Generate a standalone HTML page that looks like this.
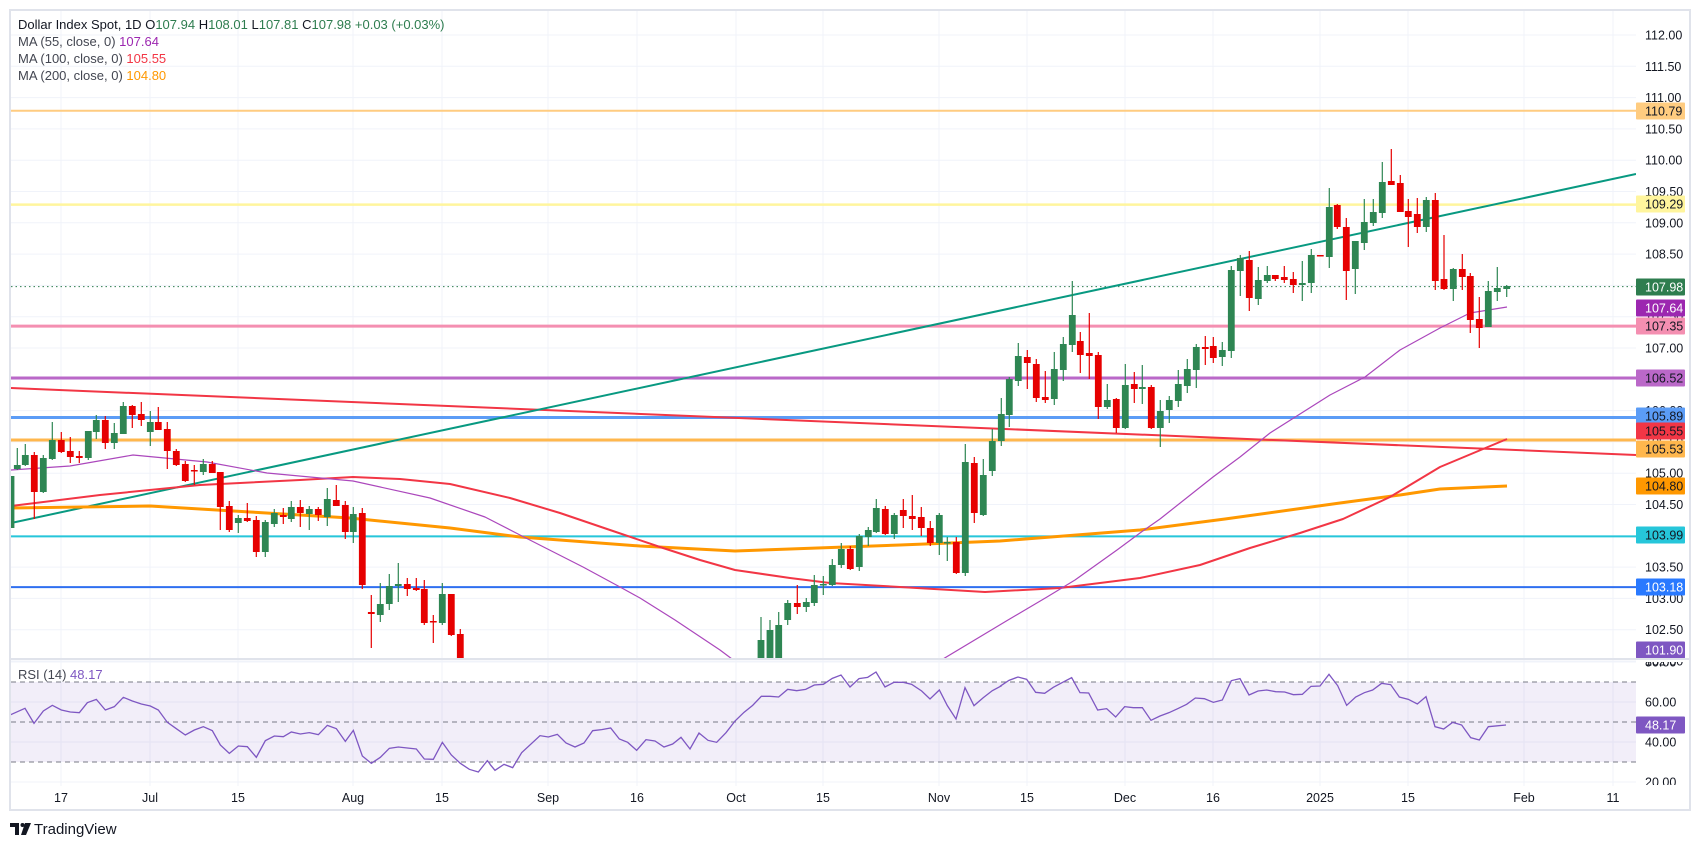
<!DOCTYPE html>
<html><head><meta charset="utf-8"><style>
html,body{margin:0;padding:0;background:#fff;}
body{width:1700px;height:846px;overflow:hidden;font-family:"Liberation Sans",sans-serif;}
svg text{font-family:"Liberation Sans",sans-serif;}
</style></head><body>
<svg id="s" width="1700" height="846" viewBox="0 0 1700 846" xmlns="http://www.w3.org/2000/svg">
<defs>
<clipPath id="cm"><rect x="11" y="11" width="1625" height="647"/></clipPath>
<clipPath id="cr"><rect x="11" y="660" width="1625" height="126"/></clipPath>
</defs>
<rect x="10" y="10" width="1680" height="800" fill="#fff" stroke="#e0e3eb" stroke-width="2"/>
<g id="grid"></g>
<g id="main" clip-path="url(#cm)"></g>
<g id="rsi" clip-path="url(#cr)"></g>
<line x1="10" y1="659" x2="1690" y2="659" stroke="#e0e3eb" stroke-width="2"/>
<g id="labels" font-size="12.5" fill="#131722"></g>
<g font-size="13" fill="#131722">
<text x="18" y="29">Dollar Index Spot, 1D <tspan fill="#131722">O</tspan><tspan fill="#2e7d4f">107.94</tspan> <tspan>H</tspan><tspan fill="#2e7d4f">108.01</tspan> <tspan>L</tspan><tspan fill="#2e7d4f">107.81</tspan> <tspan>C</tspan><tspan fill="#2e7d4f">107.98</tspan> <tspan fill="#2e7d4f">+0.03 (+0.03%)</tspan></text>
<text x="18" y="46" fill="#434651">MA (55, close, 0) <tspan fill="#9c27b0">107.64</tspan></text>
<text x="18" y="63" fill="#434651">MA (100, close, 0) <tspan fill="#f23645">105.55</tspan></text>
<text x="18" y="80" fill="#434651">MA (200, close, 0) <tspan fill="#ff9800">104.80</tspan></text>
<text x="18" y="679" fill="#434651">RSI (14) <tspan fill="#7e57c2">48.17</tspan></text>
</g>
<g transform="translate(10,820)">
<path d="M0 3h9v12h-4v-8h-5z" fill="#131722"/><circle cx="12.5" cy="5" r="2" fill="#131722"/><path d="M15 3h6l-5 12h-5z" fill="#131722"/>
<text x="24" y="14" font-size="15" fill="#131722">TradingView</text>
</g>
</svg>
<script>
var NS="http://www.w3.org/2000/svg";
function el(p,t,a){var e=document.createElementNS(NS,t);for(var k in a)e.setAttribute(k,a[k]);p.appendChild(e);return e;}
var G=document.getElementById('grid'),M=document.getElementById('main'),R=document.getElementById('rsi'),L=document.getElementById('labels');
function py(p){return 35+(112-p)*62.6;}
function ry(v){return 702+(60-v)*2;}
// grid
for(var p=102;p<=112;p+=0.5){var y=py(p);el(G,'line',{x1:11,x2:1636,y1:y,y2:y,stroke:'#f0f3fa','stroke-width':1});}
[80,60,40,20].forEach(function(v){el(G,'line',{x1:11,x2:1636,y1:ry(v),y2:ry(v),stroke:'#f0f3fa'});});
var tx=[[61,'17'],[150,'Jul'],[238,'15'],[353,'Aug'],[442,'15'],[548,'Sep'],[637,'16'],[736,'Oct'],[823,'15'],[939,'Nov'],[1027,'15'],[1125,'Dec'],[1213,'16'],[1320,'2025'],[1408,'15'],[1524,'Feb'],[1613,'11']];
tx.forEach(function(t){el(G,'line',{x1:t[0],x2:t[0],y1:11,y2:786,stroke:'#f0f3fa'});var e=el(L,'text',{x:t[0],y:802,'text-anchor':'middle'});e.textContent=t[1];});
// RSI band
el(R,'rect',{x:11,y:ry(70),width:1625,height:80,fill:'#7e57c2','fill-opacity':0.1});
[70,50,30].forEach(function(v){el(R,'line',{x1:11,x2:1636,y1:ry(v),y2:ry(v),stroke:'#787b86','stroke-dasharray':'5,4'});});
// horizontal levels
[[110.79,'#ffcc80',2],[109.29,'#fff59d',2.5],[107.35,'#f48fb1',3],[106.52,'#ba68c8',3],[105.89,'#5b9cf6',3],[105.53,'#ffb74d',3],[103.99,'#26c6da',2],[103.18,'#2f6ff0',2]].forEach(function(h){var y=py(h[0]);el(M,'line',{x1:11,x2:1636,y1:y,y2:y,stroke:h[1],'stroke-width':h[2]});});
el(M,'line',{x1:11,x2:1636,y1:286.6,y2:286.6,stroke:'#2e7d4f','stroke-dasharray':'1.5,3'});
// trendlines
el(M,'line',{x1:11,y1:388,x2:1636,y2:455,stroke:'#f23645','stroke-width':2});
el(M,'line',{x1:11,y1:523,x2:1636,y2:174,stroke:'#089981','stroke-width':2});
function pl(pts,c,w){el(M,'polyline',{points:pts.map(function(p){return p.join(',')}).join(' '),fill:'none',stroke:c,'stroke-width':w,'stroke-linejoin':'round'});}
pl([[11,508],[150,506],[250,512],[350,518],[450,528],[520,537],[640,546],[735,551],[790,549],[900,545],[1000,541],[1140,530],[1225,519],[1340,503],[1400,495],[1440,489],[1507,486]],'#ff9800',3);
pl([[11,506],[100,495],[200,485],[300,480],[353,477],[400,479],[450,484],[510,498],[560,513],[610,530],[660,547],[700,560],[735,570],[790,578],[830,583],[900,587],[985,592],[1060,588],[1140,578],[1200,565],[1250,548],[1300,533],[1343,519],[1390,497],[1440,467],[1507,439]],'#f23645',2);
pl([[11,470],[70,466],[133,455],[207,462],[267,473],[353,481],[430,498],[485,517],[520,535],[583,567],[620,587],[640,598],[675,620],[720,650],[760,680],[850,700],[943,659],[1008,620],[1047,597],[1075,580],[1117,550],[1140,533],[1160,519],[1213,477],[1240,457],[1270,433],[1330,395],[1365,377],[1400,350],[1440,328],[1470,313],[1507,307]],'#ab47bc',1.2);
// candles
var C=[[11,476,528,476,528,1],[17.3,465,469,448,470,1],[25.3,455,465,444,466,1],[34.3,455,492,452,519,0],[43.3,458,492,455,493,1],[52.3,440,459,422,460,1],[61.3,440,452,432,453,0],[70.3,451,457,437,463,0],[79.3,456,458,451,463,0],[88.3,431,458,431,460,1],[96.3,420,432,415,439,1],[105.3,420,443,416,449,0],[114.3,433,443,423,449,1],[123.3,406,434,402,434,1],[132.3,406,415,405,428,0],[141.3,414,420,402,426,0],[150.3,422,432,411,446,1],[158.3,422,430,407,430,0],[167.3,429,451,422,469,0],[176.3,451,465,449,466,0],[185.3,464,481,461,482,0],[194.3,470,471,465,485,0],[203.3,464,472,459,475,1],[212.3,464,473,461,473,0],[220.3,472,507,472,530,0],[229.3,506,530,501,532,0],[238.3,518,523,515,533,1],[247.3,518,521,503,522,0],[256.3,520,552,516,557,0],[265.3,522,552,520,557,1],[274.3,513,524,509,527,1],[283.3,515,517,508,524,0],[291.3,507,519,501,522,1],[300.3,507,513,500,527,0],[309.3,509,514,506,530,1],[318.3,509,515,507,521,0],[327.3,499,517,488,526,1],[336.3,500,506,485,506,0],[345.3,505,532,501,539,0],[353.3,514,532,507,543,1],[362.3,513,585,508,589,0],[371.3,612,614,595,648,0],[380.3,604,615,583,622,1],[389.3,586,604,574,610,1],[398.3,584,586,563,602,1],[407.3,584,589,578,596,0],[416.3,588,590,578,591,0],[424.3,589,623,580,625,0],[433.3,621,622,615,643,0],[442.3,594,623,583,625,1],[451.3,594,635,594,636,0],[460.3,634,665,629,665,0],
[761,640,680,617,680,1],[770,630,680,620,680,1],[778.7,625,680,612,680,1],[787.7,603,620,600,625,1],
[797.3,603,607,585,614,0],[806.3,602,607,598,612,1],[814.3,585,603,575,606,1],[823.3,584,585,576,595,1],[832.3,565,585,559,586,1],[841.3,549,565,543,568,1],[850.3,549,569,546,570,0],[859.3,536,567,534,571,1],[868.3,530,537,527,546,1],[876.3,508,532,499,533,1],[885.3,509,534,506,535,0],[894.3,515,534,513,539,1],[903.3,510,516,499,528,0],[912.3,516,519,495,530,0],[921.3,517,528,507,536,0],[930.3,528,543,521,546,0],[939.3,515,543,513,555,1],[947.3,542,543,537,561,1],[956.3,542,573,537,574,0],[965.3,462,573,444,576,1],[974.3,463,513,457,523,0],[983.3,475,515,459,516,1],[992.3,441,471,429,476,1],[1001.3,414,441,398,446,1],[1009.3,379,415,377,427,1],[1018.3,356,381,343,386,1],[1027.3,357,363,350,389,0],[1036.3,364,398,359,402,0],[1045.3,397,400,371,403,0],[1054.3,369,399,352,405,1],[1063.3,344,370,337,381,1],[1072.3,315,345,281,352,1],[1080.3,341,355,332,373,0],[1089.3,353,356,313,379,0],[1098.3,355,407,352,419,0],[1107.3,400,407,384,409,1],[1116.3,399,428,398,433,0],[1125.3,385,428,364,429,1],[1134.3,384,389,372,403,0],
[1142.3,387,389,365,404,1],[1151.3,387,428,385,429,0],[1160.3,411,428,400,447,1],[1169.3,400,410,396,423,1],[1178.3,384,401,370,407,1],[1187.3,369,386,359,393,1],[1196.3,347,370,344,388,1],[1205.3,347,349,336,365,0],[1213.3,346,358,337,363,0],[1222.3,350,357,342,366,1],[1231.3,270,351,266,358,1],[1240.3,258,271,255,296,1],[1249.3,260,298,251,311,0],[1258.3,280,299,267,305,1],[1267.3,275,281,266,283,1],[1275.3,275,279,275,281,0],[1284.3,277,280,266,283,0],[1293.3,279,285,272,293,0],[1302.3,283,285,261,301,1],[1311.3,255,283,249,293,1],[1320.3,255,256,255,256,0],[1329.3,207,257,188,268,1],[1337.3,205,227,204,229,0],[1346.3,227,271,218,300,0],[1355.3,241,269,241,294,1],[1364.3,222,243,199,250,1],[1373.3,212,223,199,226,1],[1382.3,182,213,162,218,1],[1391.3,181,185,149,185,0],[1400.3,183,212,175,212,0],[1408.3,211,217,199,247,0],[1417.3,214,227,198,233,0],[1426.3,200,227,197,232,1],[1435.3,200,281,193,290,0],
[1444,279,289,235,290,0],[1453.3,269,289,268,301,1],[1462.3,269,277,254,290,0],[1470.3,276,320,273,333,0],[1479.3,319,328,297,348,0],[1488.3,291,327,281,327,1],[1497.3,288,292,267,301,1],[1506.7,286,289,285,297,1]];
C.forEach(function(c){var col=c[5]?'#2e8653':'#e60000';el(M,'line',{x1:c[0],x2:c[0],y1:c[3],y2:c[4],stroke:col,'stroke-width':1.2});var h=Math.max(c[2]-c[1],1.5);el(M,'rect',{x:c[0]-3.4,y:c[1],width:6.8,height:h,fill:col});});
// RSI line
var r1=[[30,345],[75,325],[102,370],[130,333],[157,316],[184,330],[211,336],[238,338],[262,308],[289,298],[316,330],[343,320],[370,292],[397,303],[424,312],[451,318],[475,330],[502,367],[529,386],[556,405],[583,390],[610,380],[637,392],[661,435],[688,460],[715,438],[742,440],[769,472],[796,422],[823,408],[850,410],[874,396],[901,402],[928,398],[955,404],[982,376],[1009,386],[1036,424],[1060,391],[1087,468],[1114,490],[1141,472],[1168,445],[1195,441],[1222,444],[1249,447],[1273,477],[1300,478],[1327,427],[1354,465],[1381,490],[1408,508],[1435,516],[1462,482],[1470,492]].map(function(p){return [p[0]/3,600+p[1]/3];});
var r2=[[0,298],[15,316],[42,298],[68,308],[95,263],[150,212],[175,216],[202,208],[228,234],[255,246],[282,234],[308,197],[335,194],[362,189],[388,222],[413,232],[440,256],[468,224],[495,228],[522,246],[548,237],[573,217],[600,252],[627,204],[654,226],[680,232],[708,203],[735,168],[762,142],[788,121],[814,94],[840,94],[866,96],[893,73],[920,77],[947,73],[973,60],[1000,58],[1027,40],[1053,30],[1080,66],[1107,41],[1133,37],[1158,21],[1185,66],[1212,52],[1240,52],[1265,58],[1295,78],[1320,102],[1348,75],[1372,122],[1398,162],[1425,68],[1452,122],[1480,98],[1507,77],[1535,62]].map(function(p){return [490+p[0]/3,665+p[1]/3];});
var r3=[[0,64],[27,46],[54,36],[80,43],[107,82],[134,85],[160,67],[188,52],[215,38],[240,83],[266,84],[293,135],[320,131],[347,156],[374,125],[400,128],[427,128],[453,166],[480,153],[507,143],[533,131],[560,118],[586,99],[613,101],[640,112],[667,105],[694,47],[720,41],[747,90],[774,78],[800,75],[827,80],[854,81],[880,89],[907,88],[933,64],[960,63],[987,28],[1013,62],[1040,121],[1067,96],[1093,83],[1118,75],[1145,55],[1172,59],[1198,96],[1225,103],[1252,117],[1278,95],[1305,185],[1331,192],[1358,172],[1385,180],[1412,218],[1438,225],[1465,185],[1518,180]].map(function(p){return [1000+p[0]/3,665+p[1]/3];});
var rr=r1.concat(r2).concat(r3);
el(R,'polyline',{points:rr.map(function(p){return p.join(',')}).join(' '),fill:'none',stroke:'#7e57c2','stroke-width':1.3});
// price labels
for(var q=102;q<=112;q+=0.5){var e=el(L,'text',{x:1645,y:py(q)+4.5});e.textContent=q.toFixed(2);}
[[80,'80.00'],[60,'60.00'],[40,'40.00'],[20,'20.00']].forEach(function(t){var e=el(L,'text',{x:1645,y:ry(t[0])+4.5});e.textContent=t[1];});
// cover overflow of labels beyond panes
el(L,'rect',{x:1637,y:654,width:52,height:8,fill:'#fff'});
el(L,'rect',{x:1637,y:785,width:52,height:4,fill:'#fff'});
function box(y,txt,bg,fg){el(L,'rect',{x:1636,y:y-8.5,width:49,height:17,fill:bg,rx:1});var e=el(L,'text',{x:1645,y:y+4.5,fill:fg});e.textContent=txt;}
box(111,'110.79','#ffcc80','#131722');
box(204,'109.29','#fff59d','#131722');
box(287,'107.98','#2e7d4f','#fff');
box(308,'107.64','#9c27b0','#fff');
box(326,'107.35','#f48fb1','#131722');
box(378,'106.52','#ba68c8','#131722');
box(416,'105.89','#5b9cf6','#131722');
box(431,'105.55','#f23645','#131722');
box(449,'105.53','#ffb74d','#131722');
box(486,'104.80','#ff9800','#131722');
box(535,'103.99','#26c6da','#131722');
box(587,'103.18','#2979ff','#fff');
box(650,'101.90','#7e57c2','#fff');
box(725,'48.17','#7e57c2','#fff');
el(L,'line',{x1:10,y1:659,x2:1690,y2:659,stroke:'#e0e3eb','stroke-width':2});
</script>
</body></html>
